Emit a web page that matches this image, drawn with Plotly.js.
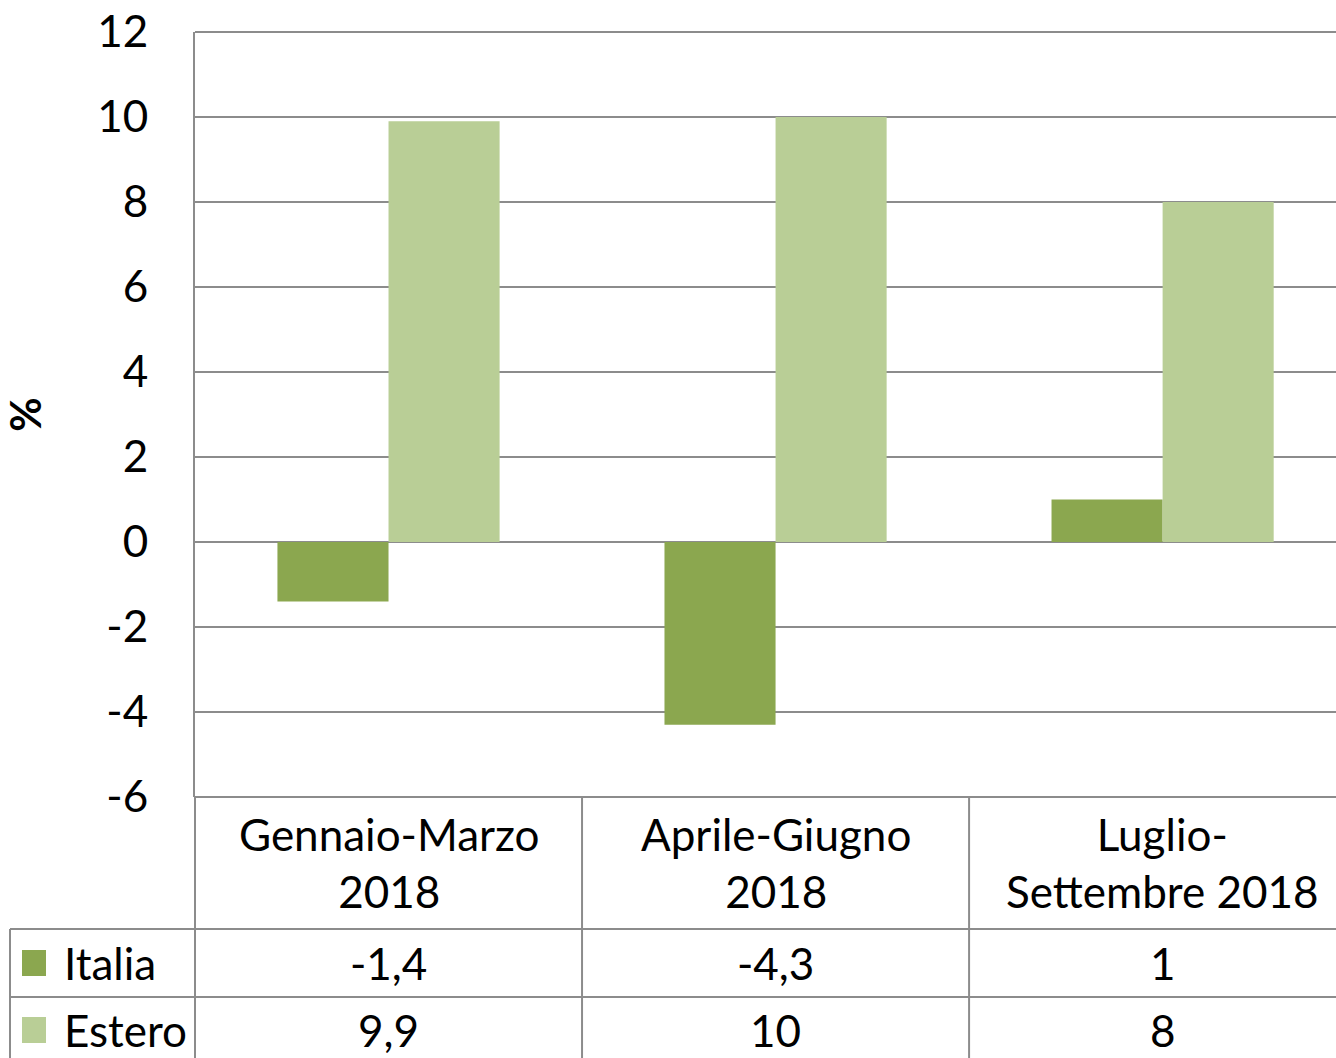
<!DOCTYPE html>
<html>
<head>
<meta charset="utf-8">
<script src="https://cdn.plot.ly/plotly-3.0.1.min.js"></script>
<style>html,body{margin:0;padding:0;background:#fff;}#chart{width:1336px;height:1058px;}</style>
</head>
<body>
<div id="chart"></div>
<script>
const categories = ["Gennaio-Marzo<br>2018", "Aprile-Giugno<br>2018", "Luglio-<br>Settembre 2018"];
const seriesNames = ["Italia", "Estero"];
const italia = [-1.4, -4.3, 1];
const estero = [9.9, 10, 8];
const yTicks = [-6, -4, -2, 0, 2, 4, 6, 8, 10, 12];
const colors = ["#8BA74F", "#B9CE96"];

const FONT = "Lato, 'Open Sans', sans-serif";
const FS = 44;
const GRID = "#8c8c8c";
const idx = categories.map((_, i) => i);

const fmt = v => String(v).replace('.', ',');

const traces = [
  {type: 'bar', x: idx, y: italia, name: seriesNames[0], marker: {color: colors[0]}, hoverinfo: 'skip'},
  {type: 'bar', x: idx, y: estero, name: seriesNames[1], marker: {color: colors[1]}, hoverinfo: 'skip'}
];

// layout geometry (pixels)
const W = 1336, H = 1058;
const L = 195, T = 32, B = 261;
const plotW = W - L, plotH = H - T - B;
const px2x = p => (p - L) / plotW;
const py2y = p => (H - B - p) / plotH;

const shapes = [];
const line = (x0, y0, x1, y1, xref) => shapes.push({type: 'line', xref: xref || 'paper', yref: 'paper', x0, y0, x1, y1, line: {color: GRID, width: 2}});
// top border of plot area (gridline at 12)
line(0, 1, 1.1, 1);
// table horizontal lines
line(0, py2y(797), 1.1, py2y(797));
line(px2x(10), py2y(929), 1.1, py2y(929));
line(px2x(10), py2y(997), 1.1, py2y(997));
// table verticals
line(px2x(10), py2y(929), px2x(10), py2y(1070));
line(0, py2y(797), 0, py2y(1070));
[0.5, 1.5].forEach(b => shapes.push({type: 'line', xref: 'x', yref: 'paper', x0: b, x1: b, y0: py2y(797), y1: py2y(1070), line: {color: GRID, width: 2}}));

// legend keys
const rowsY = [963, 1030];
rowsY.forEach((cy, i) => {
  shapes.push({type: 'rect', xref: 'paper', yref: 'paper', x0: px2x(22), x1: px2x(46), y0: py2y(cy + 13), y1: py2y(cy - 13), fillcolor: colors[i], line: {width: 0}});
});

const annotations = [];
categories.forEach((c, i) => {
  annotations.push({xref: 'x', yref: 'paper', x: i, y: py2y(863), text: c, showarrow: false, xanchor: 'center', yanchor: 'middle', font: {family: FONT, size: FS, color: '#000'}});
});
[italia, estero].forEach((arr, r) => {
  annotations.push({xref: 'paper', yref: 'paper', x: px2x(62), y: py2y(rowsY[r]), text: seriesNames[r], showarrow: false, xanchor: 'left', yanchor: 'middle', font: {family: FONT, size: FS, color: '#000'}});
  arr.forEach((v, i) => {
    annotations.push({xref: 'x', yref: 'paper', x: i, y: py2y(rowsY[r]), text: fmt(v), showarrow: false, xanchor: 'center', yanchor: 'middle', font: {family: FONT, size: FS, color: '#000'}});
  });
});

const layout = {
  width: W, height: H,
  margin: {l: L, r: 0, t: T, b: B, pad: 0},
  paper_bgcolor: '#fff', plot_bgcolor: '#fff',
  showlegend: false,
  barmode: 'group',
  bargap: 0.426,
  bargroupgap: 0,
  font: {family: FONT, size: FS, color: '#000'},
  xaxis: {range: [-0.5, 2.448], showticklabels: false, showgrid: false, zeroline: false, showline: false, ticks: '', fixedrange: true},
  yaxis: {
    range: [-6, 12], tickvals: yTicks, ticktext: yTicks.map(fmt),
    showgrid: true, gridcolor: GRID, gridwidth: 2,
    zeroline: true, zerolinecolor: GRID, zerolinewidth: 2,
    showline: true, linecolor: GRID, linewidth: 2,
    ticks: '', ticklabelstandoff: 36,
    tickfont: {family: FONT, size: FS, color: '#000'},
    title: {text: '<b>%</b>', font: {family: FONT, size: 42, color: '#000'}, standoff: 58}
  },
  shapes, annotations
};

Plotly.newPlot('chart', traces, layout, {displayModeBar: false, staticPlot: true});
</script>
</body>
</html>
